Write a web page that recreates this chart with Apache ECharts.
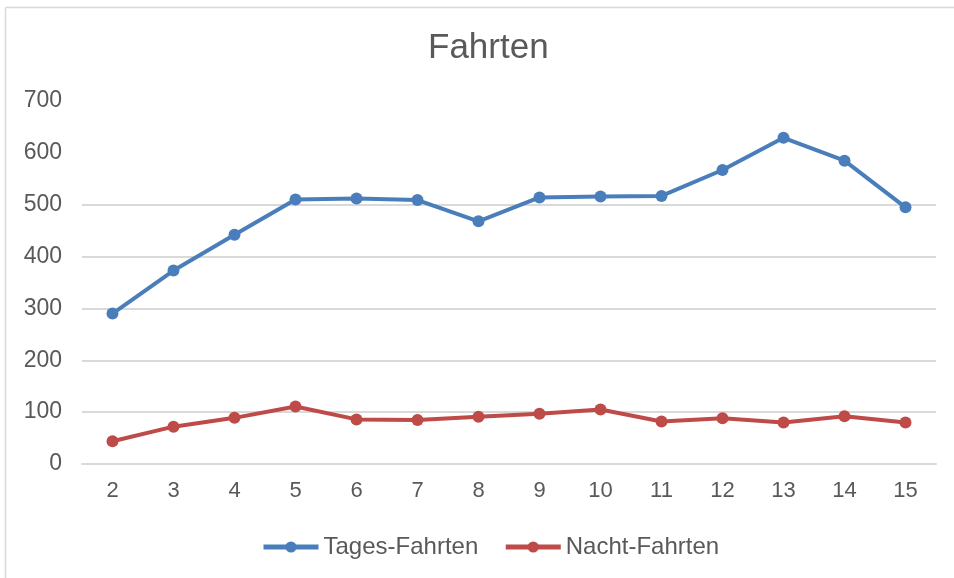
<!DOCTYPE html>
<html>
<head>
<meta charset="utf-8">
<script src="https://cdn.jsdelivr.net/npm/echarts@6/dist/echarts.min.js"></script>
<style>
html,body{margin:0;padding:0;background:#fff;}
#chart{width:954px;height:578px;}
</style>
</head>
<body>
<div id="chart"></div>
<script>
const categories = ['2','3','4','5','6','7','8','9','10','11','12','13','14','15'];
const tagesFahrten = [290, 373, 442, 510, 512, 509, 468, 514, 516, 517, 567, 629, 585, 495];
const nachtFahrten = [44, 72, 89, 111, 86, 85, 91, 97, 105, 82, 88, 80, 92, 80];
const titleText = 'Fahrten';
const seriesNames = ['Tages-Fahrten', 'Nacht-Fahrten'];

const chart = echarts.init(document.getElementById('chart'));
const gray = '#595959';
const font = '"Liberation Sans", Arial, sans-serif';
chart.setOption({
  animation: false,
  backgroundColor: '#fff',
  graphic: [
    { type: 'line', shape: { x1: 5.5, y1: 7.5, x2: 954, y2: 7.5 }, style: { stroke: '#d9d9d9', lineWidth: 1.5 } },
    { type: 'line', shape: { x1: 5.5, y1: 7.5, x2: 5.5, y2: 578 }, style: { stroke: '#d9d9d9', lineWidth: 1.5 } }
  ],
  title: {
    text: titleText,
    left: 423,
    top: 26,
    textStyle: { color: gray, fontSize: 35, fontWeight: 'normal', fontFamily: font }
  },
  legend: {
    top: 535,
    left: 261,
    padding: 0,
    itemWidth: 55,
    itemHeight: 14,
    itemGap: 25,
    lineStyle: { width: 5 },
    textStyle: { color: gray, fontSize: 24, fontFamily: font },
    data: seriesNames
  },
  grid: { left: 82, right: 18, top: 101, bottom: 114, containLabel: false },
  xAxis: {
    type: 'category',
    data: categories,
    boundaryGap: true,
    axisLine: { lineStyle: { color: '#d9d9d9', width: 2 } },
    axisTick: { show: false },
    axisLabel: { color: gray, fontSize: 22, fontFamily: font, margin: 16 }
  },
  yAxis: {
    type: 'value',
    min: 0,
    max: 700,
    interval: 100,
    axisLine: { show: false },
    axisTick: { show: false },
    axisLabel: { color: gray, fontSize: 23, fontFamily: font, margin: 20 },
    splitLine: {
      lineStyle: {
        color: ['#d9d9d9', '#d9d9d9', '#d9d9d9', '#d9d9d9', '#d9d9d9', '#d9d9d9', 'rgba(0,0,0,0)', 'rgba(0,0,0,0)'],
        width: 2
      }
    }
  },
  series: [
    {
      name: seriesNames[0],
      type: 'line',
      data: tagesFahrten,
      color: '#4a7ebb',
      symbol: 'circle',
      symbolSize: 12,
      lineStyle: { width: 4, color: '#4a7ebb' },
      itemStyle: { color: '#4a7ebb' }
    },
    {
      name: seriesNames[1],
      type: 'line',
      data: nachtFahrten,
      color: '#be4b48',
      symbol: 'circle',
      symbolSize: 12,
      lineStyle: { width: 4, color: '#be4b48' },
      itemStyle: { color: '#be4b48' }
    }
  ]
});
</script>
</body>
</html>
